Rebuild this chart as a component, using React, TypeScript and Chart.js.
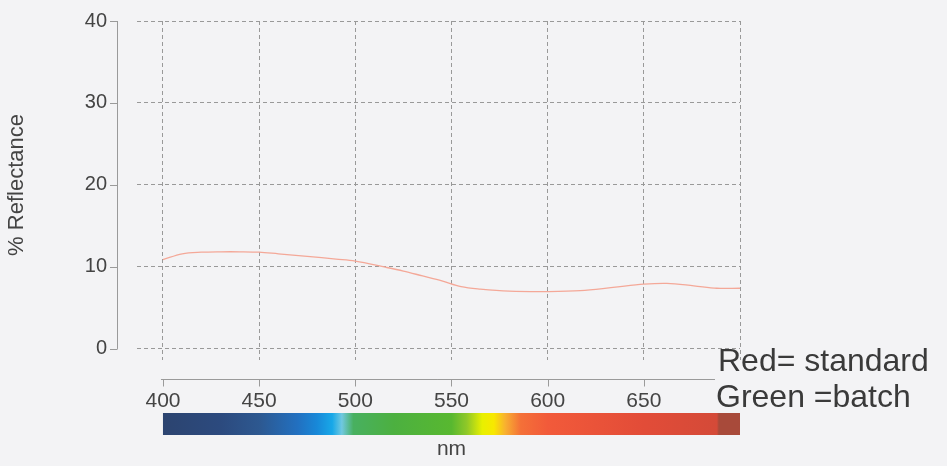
import { useEffect, useRef } from 'react';
import { Chart, registerables } from 'chart.js';

Chart.register(...registerables);

// ---- data ----
const wavelengths = [400, 410, 420, 430, 440, 450, 460, 475, 490, 500, 515, 525, 535, 545, 555, 565, 580, 600, 617, 634, 650, 662, 676, 688, 700];
const reflectance = [10.9, 11.6, 11.8, 11.85, 11.85, 11.8, 11.6, 11.3, 10.95, 10.7, 10.0, 9.5, 8.9, 8.3, 7.6, 7.3, 7.05, 7.0, 7.1, 7.5, 7.9, 8.0, 7.7, 7.4, 7.4];
const xTicks = [400, 450, 500, 550, 600, 650, 700];
const yTicks = [0, 10, 20, 30, 40];
const spectrumNm = [400, 430, 450, 470, 480, 488, 493, 499, 520, 550, 558, 566, 572, 578, 586, 600, 650, 688, 689, 700];
const spectrumColors = ['#2c4470', '#2c4a7e', '#2d5890', '#2270c0', '#1888d8', '#18a8e8', '#70c8e0', '#48b060', '#4cb040', '#58b830', '#90c828', '#e8f000', '#f8e800', '#f8b030', '#f47038', '#f25a3a', '#e24c38', '#d44a38', '#a84a3a', '#a84a3a'];
const legendLines = ['Red= standard', 'Green =batch'];
const yTitle = '% Reflectance';
const xTitle = 'nm';
const axisEndNm = 687;

const FONT = "'Liberation Sans', Arial, sans-serif";

export default function App() {
  const ref = useRef<HTMLCanvasElement>(null);

  useEffect(() => {
    document.body.style.margin = '0';
    const canvas = ref.current!;
    const decor = {
      id: 'decor',
      beforeDraw(chart: any) {
        const c = chart.ctx;
        c.save();
        c.fillStyle = '#f3f3f5';
        c.fillRect(0, 0, chart.width, chart.height);
        c.restore();
      },
      afterDraw(chart: any) {
        const c = chart.ctx;
        const xs = chart.scales.x;
        const ys = chart.scales.y;
        const area = chart.chartArea;
        c.save();
        // y axis line + ticks
        const ax = area.left - 20;
        c.strokeStyle = '#9a9a9a';
        c.lineWidth = 1;
        c.beginPath();
        c.moveTo(ax + 0.5, ys.getPixelForValue(40));
        c.lineTo(ax + 0.5, ys.getPixelForValue(0));
        yTicks.forEach((v) => {
          const y = Math.round(ys.getPixelForValue(v)) + 0.5;
          c.moveTo(ax - 7, y);
          c.lineTo(ax + 0.5, y);
        });
        c.stroke();
        // x axis line + ticks
        const ay = area.bottom + 19.5;
        c.beginPath();
        c.moveTo(xs.getPixelForValue(400) - 2, ay);
        c.lineTo(xs.getPixelForValue(axisEndNm), ay);
        xTicks.slice(0, -1).forEach((v) => {
          const x = Math.round(xs.getPixelForValue(v)) + 0.5;
          c.moveTo(x, ay);
          c.lineTo(x, ay + 7);
        });
        c.stroke();
        // colour bar
        const x0 = xs.getPixelForValue(400);
        const x1 = xs.getPixelForValue(700);
        const grad = c.createLinearGradient(x0, 0, x1, 0);
        spectrumNm.forEach((nm, i) => {
          grad.addColorStop((nm - 400) / 300, spectrumColors[i]);
        });
        c.fillStyle = grad;
        c.fillRect(x0, area.bottom + 53, x1 - x0, 22);
        // nm label
        c.fillStyle = '#444';
        c.font = `21px ${FONT}`;
        c.textAlign = 'center';
        c.textBaseline = 'middle';
        c.fillText(xTitle, xs.getPixelForValue(550), area.bottom + 89);
        // y title
        c.save();
        c.translate(17, ys.getPixelForValue(20));
        c.rotate(-Math.PI / 2);
        c.font = `22px ${FONT}`;
        c.fillText(yTitle, 0, 0);
        c.restore();
        // legend text
        c.fillStyle = '#3a3a3a';
        c.font = `32px ${FONT}`;
        c.textAlign = 'left';
        c.fillText(legendLines[0], 718, 362);
        c.fillText(legendLines[1], 716, 398);
        c.restore();
      },
    };

    const chart = new Chart(canvas, {
      type: 'line',
      data: {
        datasets: [
          {
            data: wavelengths.map((w, i) => ({ x: w, y: reflectance[i] })),
            borderColor: '#f4a898',
            borderWidth: 1.3,
            pointRadius: 0,
            fill: false,
            tension: 0.35,
          },
        ],
      },
      options: {
        animation: false,
        responsive: false,
        maintainAspectRatio: false,
        layout: { padding: { top: 0, right: 207, bottom: 0, left: 0 } },
        plugins: { legend: { display: false }, tooltip: { enabled: false } },
        scales: {
          x: {
            type: 'linear',
            min: 386.5,
            max: 700,
            afterBuildTicks: (s: any) => {
              s.ticks = xTicks.map((v) => ({ value: v }));
            },
            afterFit: (s: any) => {
              s.height = 106;
              s.paddingLeft = 0;
              s.paddingRight = 0;
            },
            grid: { color: '#999999', drawTicks: false, lineWidth: 1 },
            border: { display: false, dash: [4, 3] },
            ticks: {
              padding: 29,
              color: '#444',
              font: { family: FONT, size: 21 },
              maxRotation: 0,
              autoSkip: false,
              callback: (v: any) => (v === 700 ? '' : String(v)),
            },
          },
          y: {
            min: -1.35,
            max: 40,
            afterBuildTicks: (s: any) => {
              s.ticks = yTicks.map((v) => ({ value: v }));
            },
            afterFit: (s: any) => {
              s.width = 137;
              s.paddingTop = 21;
              s.paddingBottom = 0;
            },
            grid: { color: '#999999', drawTicks: false, lineWidth: 1 },
            border: { display: false, dash: [4, 3] },
            ticks: {
              padding: 30,
              color: '#444',
              font: { family: FONT, size: 20 },
              autoSkip: false,
            },
          },
        },
      },
      plugins: [decor],
    });
    return () => chart.destroy();
  }, []);

  return (
    <div style={{ width: 947, height: 466, position: 'relative' }}>
      <canvas ref={ref} width={947} height={466} style={{ display: 'block', width: 947, height: 466 }} />
    </div>
  );
}
